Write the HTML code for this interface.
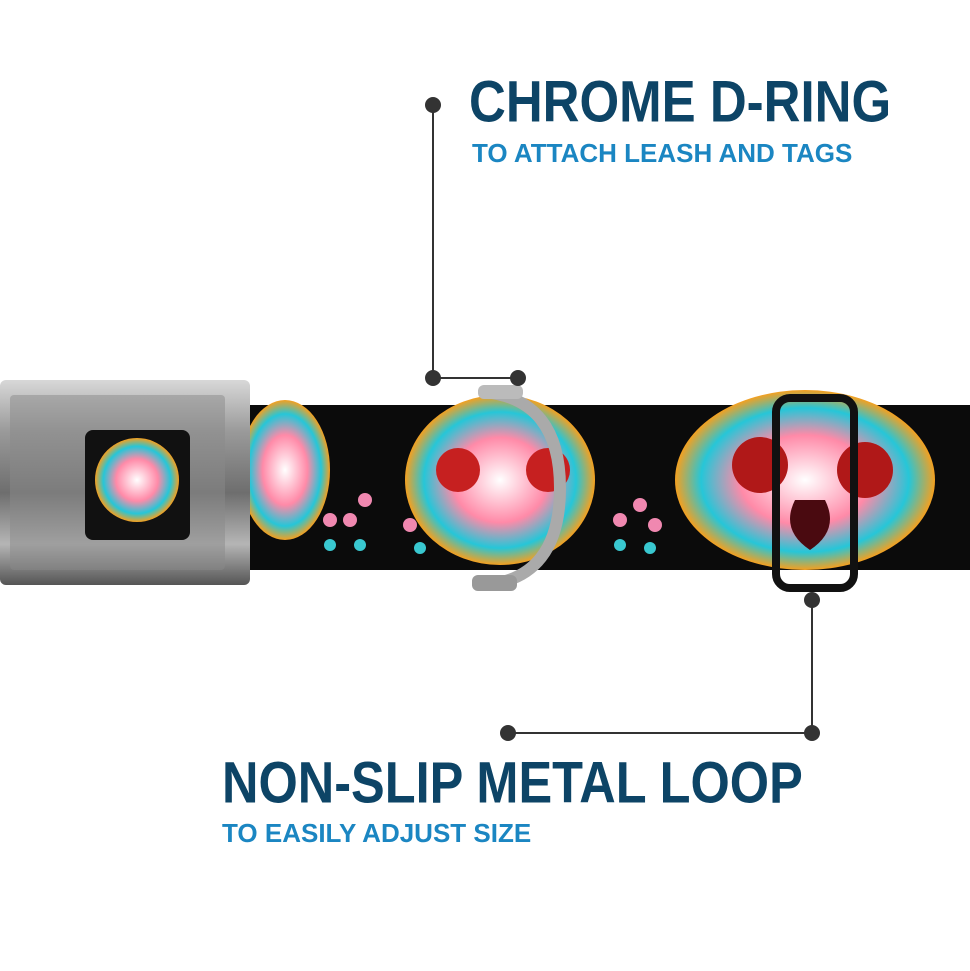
<!DOCTYPE html>
<html><head><meta charset="utf-8"><style>
html,body{margin:0;padding:0;background:#fff;}
body{width:970px;height:971px;position:relative;overflow:hidden;font-family:"Liberation Sans",sans-serif;}
.t{position:absolute;font-weight:bold;white-space:nowrap;transform-origin:0 0;}
</style></head><body>
<svg width="970" height="971" style="position:absolute;left:0;top:0">
<defs>
<linearGradient id="metal" x1="0" y1="0" x2="0" y2="1">
<stop offset="0" stop-color="#d8d8d8"/><stop offset="0.25" stop-color="#9a9a9a"/><stop offset="0.55" stop-color="#6e6e6e"/><stop offset="0.8" stop-color="#b5b5b5"/><stop offset="1" stop-color="#555"/>
</linearGradient>
<radialGradient id="sk" cx="0.5" cy="0.5" r="0.5">
<stop offset="0" stop-color="#fff"/><stop offset="0.5" stop-color="#ff8aa8"/><stop offset="0.8" stop-color="#26c6d8"/><stop offset="1" stop-color="#f4a020"/>
</radialGradient>
</defs>
<rect x="235" y="405" width="735" height="165" fill="#0b0b0b"/>
<ellipse cx="285" cy="470" rx="45" ry="70" fill="url(#sk)"/>
<ellipse cx="500" cy="480" rx="95" ry="85" fill="url(#sk)"/>
<circle cx="458" cy="470" r="22" fill="#c62020"/><circle cx="548" cy="470" r="22" fill="#c62020"/>
<ellipse cx="805" cy="480" rx="130" ry="90" fill="url(#sk)"/>
<circle cx="760" cy="465" r="28" fill="#b01818"/><circle cx="865" cy="470" r="28" fill="#b01818"/>
<path d="M795 500 q-15 30 15 50 q30 -20 15 -50 z" fill="#4a0a10"/>
<g fill="#f088b0">
<circle cx="330" cy="520" r="7"/><circle cx="350" cy="520" r="7"/><circle cx="365" cy="500" r="7"/><circle cx="410" cy="525" r="7"/><circle cx="620" cy="520" r="7"/><circle cx="640" cy="505" r="7"/><circle cx="655" cy="525" r="7"/>
</g>
<g fill="#39c8d0">
<circle cx="330" cy="545" r="6"/><circle cx="360" cy="545" r="6"/><circle cx="420" cy="548" r="6"/><circle cx="620" cy="545" r="6"/><circle cx="650" cy="548" r="6"/>
</g>
<rect x="0" y="380" width="250" height="205" rx="6" fill="url(#metal)"/>
<rect x="10" y="395" width="215" height="175" rx="4" fill="#8a8a8a" opacity="0.5"/>
<rect x="85" y="430" width="105" height="110" rx="8" fill="#111"/>
<circle cx="137" cy="480" r="42" fill="url(#sk)"/>
<path d="M485 392 Q560 400 560 488 Q560 578 485 585" stroke="#aaa" stroke-width="12" fill="none"/>
<rect x="478" y="385" width="45" height="14" rx="6" fill="#bbb"/>
<rect x="472" y="575" width="45" height="16" rx="6" fill="#999"/>
<rect x="776" y="398" width="78" height="190" rx="14" stroke="#111" stroke-width="8" fill="none"/>
<g stroke="#333" stroke-width="2" fill="none">
<path d="M433 105 V378 H518"/>
<path d="M812 600 V733 H508"/>
</g>
<g fill="#333">
<circle cx="433" cy="105" r="8"/><circle cx="433" cy="378" r="8"/><circle cx="518" cy="378" r="8"/>
<circle cx="812" cy="600" r="8"/><circle cx="812" cy="733" r="8"/><circle cx="508" cy="733" r="8"/>
</g>
</svg>
<div class="t" style="left:469px;top:68px;font-size:51px;color:#0d4466;transform:scaleY(1.14);">CHROME D-RING</div>
<div class="t" style="left:472px;top:138px;font-size:26px;color:#1b86c2;">TO ATTACH LEASH AND TAGS</div>
<div class="t" style="left:222px;top:748px;font-size:50.5px;color:#0d4466;transform:scaleY(1.16);">NON-SLIP METAL LOOP</div>
<div class="t" style="left:222px;top:818px;font-size:26px;color:#1b86c2;">TO EASILY ADJUST SIZE</div>
</body></html>
